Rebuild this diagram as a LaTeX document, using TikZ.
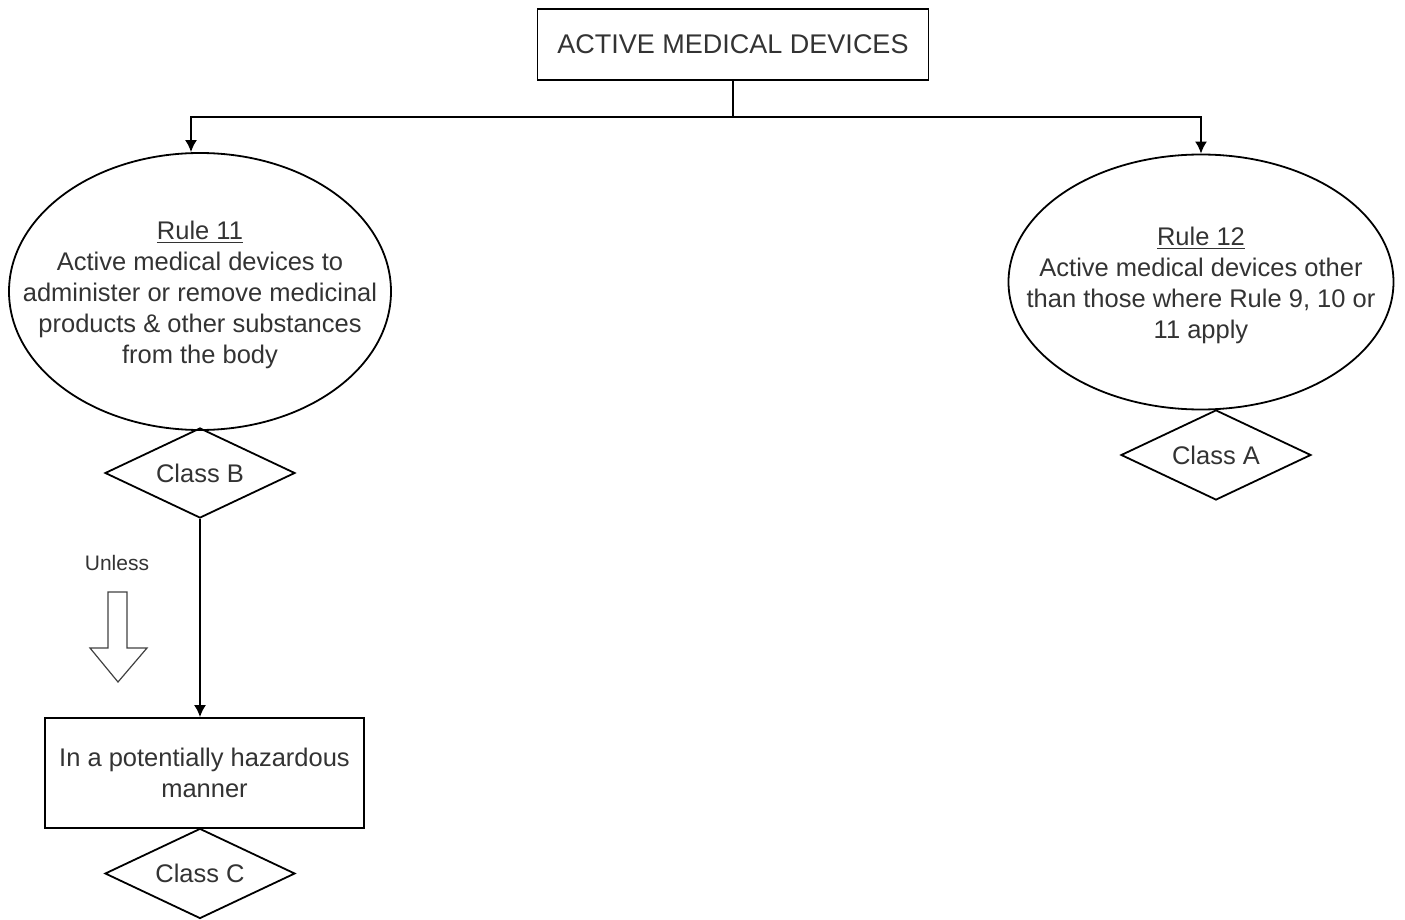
\documentclass[tikz,border=0pt]{standalone}
\usepackage{fontspec}
\setmainfont{Liberation Sans}
\usetikzlibrary{shapes.geometric,arrows.meta}
\begin{document}
\begin{tikzpicture}[x=0.5pt,y=-0.5pt]
      \tikzset{box/.style={draw, line width=0.9pt, rectangle, inner sep=0pt, text=black!80, align=center, font=\fontsize{12.75}{15.5}\selectfont},
               oval/.style={draw, line width=0.9pt, ellipse, inner sep=0pt},
               classdia/.style={draw, line width=0.9pt, diamond, aspect=2.1, inner sep=0pt, minimum width=95pt, minimum height=45pt, text=black!80, font=\fontsize{12.75}{15.5}\selectfont},
               txt/.style={align=center, inner sep=0pt, text=black!80, font=\fontsize{12.75}{15.5}\selectfont},
               conn/.style={line width=0.9pt, -{Latex[length=6pt,width=6pt]}}}
      \useasboundingbox (0,0) rectangle (1405,920);
%% Vertices
      \node[box, minimum width=195.5pt, minimum height=35.5pt, font=\fontsize{13.5}{16}\selectfont] (amd) at (733,44.5) {ACTIVE MEDICAL DEVICES};
      \coordinate (split) at (733,117);
      \node[oval, minimum width=191pt, minimum height=138.5pt] (r11) at (200,291.5) {};
      \node[txt] (r11txt) at ([yshift=-1.5pt]r11.center) {\underline{Rule 11}\\Active medical devices to\\administer or remove medicinal\\products \& other substances\\from the body};
      \node[oval, minimum width=192.5pt, minimum height=127.5pt] (r12) at (1201,282) {};
      \node[txt] (r12txt) at ([yshift=-1.5pt]r12.center) {\underline{Rule 12}\\Active medical devices other\\than those where Rule 9, 10 or\\11 apply};
      \node[classdia] (clB) at (200,473) {Class B};
      \node[classdia] (clA) at (1216,455) {Class A};
      \node[box, minimum width=159.5pt, minimum height=55pt] (haz) at (204.5,773) {In a potentially hazardous\\manner};
      \node[classdia] (clC) at (200,873.5) {Class C};
      \node[txt, font=\fontsize{10.5}{12}\selectfont] (unless) at (117,563) {Unless};
%Edges
      \draw[conn] (amd.south) -- (split) -| ([xshift=-4.5pt]r11.north);
      \draw[conn] (amd.south) -- (split) -| (r12.north);
      \draw[conn] (clB.south) -- (clB.south |- haz.north);
%Hollow arrow
      \draw[line width=0.6pt, black!75] (108,592) -- (127,592) -- (127,648) -- (147,648) -- (118,682) -- (90,648) -- (108,648) -- cycle;
\end{tikzpicture}
\end{document}
